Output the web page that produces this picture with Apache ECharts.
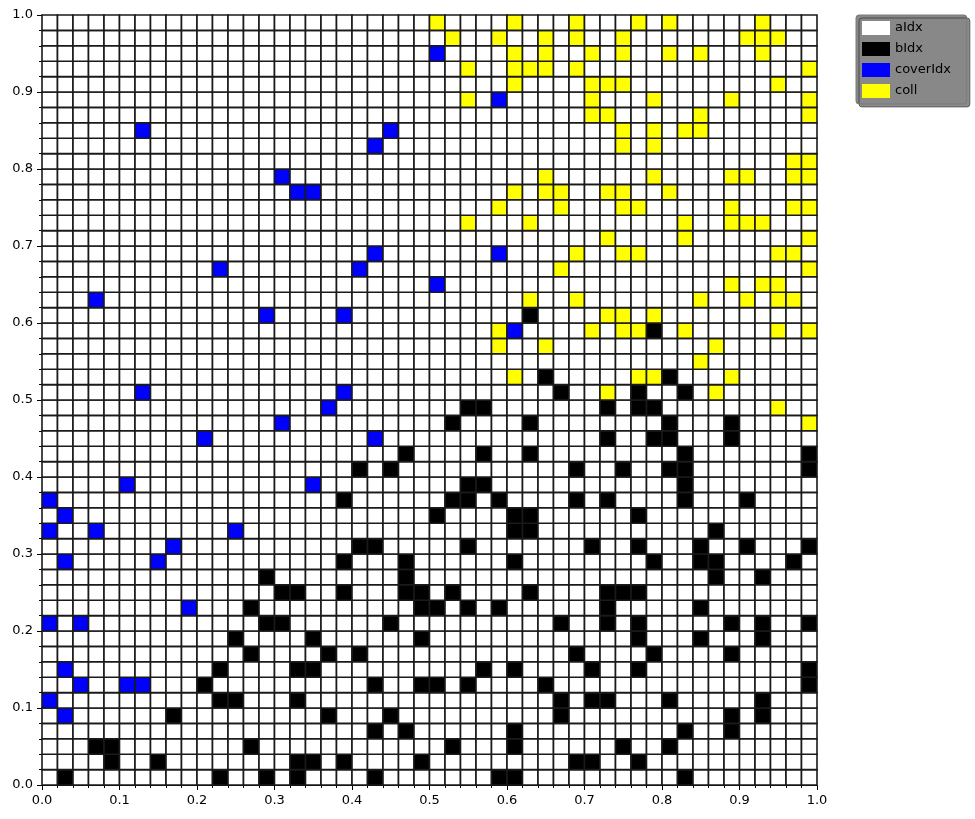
<!DOCTYPE html>
<html>
<head>
<meta charset="utf-8">
<script src="https://cdn.jsdelivr.net/npm/echarts@6/dist/echarts.min.js"></script>
<style>html,body{margin:0;padding:0;background:#fff}#c{width:975px;height:819px}</style>
</head>
<body>
<div id="c"></div>
<script>
// ---- data ----
const categoryNames = ['aIdx', 'bIdx', 'coverIdx', 'coll'];
const gridCount = 50;            // cells per side
const xTicks = [0.0, 0.1, 0.2, 0.3, 0.4, 0.5, 0.6, 0.7, 0.8, 0.9, 1.0];
const yTicks = [0.0, 0.1, 0.2, 0.3, 0.4, 0.5, 0.6, 0.7, 0.8, 0.9, 1.0];

// [row, [columns...]]  (row 0 = bottom, column 0 = left)
const coverIdxRows = [
  [47, [25]], [44, [29]], [42, [6, 22]], [41, [21]], [39, [15]], [38, [16, 17]],
  [34, [21, 29]], [33, [11, 20]], [32, [25]], [31, [3]], [30, [14, 19]], [29, [30]],
  [25, [6, 19]], [24, [18]], [23, [15]], [22, [10, 21]], [19, [5, 17]], [18, [0]],
  [17, [1]], [16, [0, 3, 12]], [15, [8]], [14, [1, 7]], [11, [9]], [10, [0, 2]],
  [7, [1]], [6, [2, 5, 6]], [5, [0]], [4, [1]]
];
const collRows = [
  [49, [25, 30, 34, 38, 40, 46]],
  [48, [26, 29, 32, 34, 37, 45, 46, 47]],
  [47, [30, 32, 35, 37, 40, 42, 46]],
  [46, [27, 30, 31, 32, 34, 49]],
  [45, [30, 35, 36, 37, 47]],
  [44, [27, 35, 39, 44, 49]],
  [43, [35, 36, 42, 49]],
  [42, [37, 39, 41, 42]],
  [41, [37, 39]],
  [40, [48, 49]],
  [39, [32, 39, 44, 45, 48, 49]],
  [38, [30, 32, 33, 36, 37, 40]],
  [37, [29, 33, 37, 38, 44, 48, 49]],
  [36, [27, 31, 41, 44, 45, 46]],
  [35, [36, 41, 49]],
  [34, [34, 37, 38, 47, 48]],
  [33, [33, 49]],
  [32, [44, 46, 47]],
  [31, [31, 34, 42, 45, 47, 48]],
  [30, [36, 37, 39]],
  [29, [29, 35, 37, 38, 41, 47, 49]],
  [28, [29, 32, 43]],
  [27, [42]],
  [26, [30, 38, 39, 44]],
  [25, [36, 43]],
  [24, [47]],
  [23, [49]]
];
const bIdxRows = [
  [30, [31]],
  [29, [39]],
  [26, [32, 40]],
  [25, [33, 38, 41]],
  [24, [27, 28, 36, 38, 39]],
  [23, [26, 31, 40, 44]],
  [22, [36, 39, 40, 44]],
  [21, [23, 28, 31, 41, 49]],
  [20, [20, 22, 34, 37, 40, 41, 49]],
  [19, [27, 28, 41]],
  [18, [19, 26, 27, 29, 34, 36, 41, 45]],
  [17, [25, 30, 31, 38]],
  [16, [30, 31, 43]],
  [15, [20, 21, 27, 35, 38, 42, 45, 49]],
  [14, [19, 23, 30, 39, 42, 43, 48]],
  [13, [14, 23, 43, 46]],
  [12, [15, 16, 19, 23, 24, 26, 31, 36, 37, 38]],
  [11, [13, 24, 25, 27, 29, 36, 42]],
  [10, [14, 15, 22, 33, 36, 38, 44, 46, 49]],
  [9, [12, 17, 24, 38, 42, 46]],
  [8, [13, 18, 20, 34, 39, 44]],
  [7, [11, 16, 17, 28, 30, 35, 38, 49]],
  [6, [10, 21, 24, 25, 27, 32, 49]],
  [5, [11, 12, 16, 33, 35, 36, 40, 46]],
  [4, [8, 18, 22, 33, 44, 46]],
  [3, [21, 23, 30, 41, 44]],
  [2, [3, 4, 13, 26, 30, 37, 40]],
  [1, [4, 7, 16, 17, 19, 24, 34, 35, 38]],
  [0, [1, 11, 14, 16, 21, 29, 30, 41]]
];

// ---- build cells ----
const typeGrid = [];
for (let r = 0; r < gridCount; r++) { typeGrid.push(new Array(gridCount).fill(0)); }
function mark(rows, t) { rows.forEach(([r, cols]) => cols.forEach(c => { typeGrid[r][c] = t; })); }
mark(bIdxRows, 1);
mark(coverIdxRows, 2);
mark(collRows, 3);

const cellSize = 1 / gridCount;
const cells = [];
for (let r = 0; r < gridCount; r++) {
  for (let c = 0; c < gridCount; c++) {
    cells.push([c * cellSize, r * cellSize, (c + 1) * cellSize, (r + 1) * cellSize, typeGrid[r][c]]);
  }
}

const colors = ['#ffffff', '#000000', '#0000ff', '#ffff00'];

const chart = echarts.init(document.getElementById('c'), null, { renderer: 'canvas' });
const axisCommon = {
  type: 'value', min: 0, max: 1, interval: 0.1,
  axisLine: { show: true, lineStyle: { color: '#000', width: 1 } },
  axisTick: { show: true, inside: false, length: 5, lineStyle: { color: '#000', width: 1 } },
  minorTick: { show: true, splitNumber: 5, length: 3, lineStyle: { color: '#000', width: 1 } },
  splitLine: { show: false },
  axisLabel: { color: '#000', fontSize: 13, fontFamily: 'DejaVu Sans', margin: 9, formatter: v => v.toFixed(1) }
};

const series = [{
  type: 'custom',
  name: 'cells',
  data: cells,
  encode: { x: [0, 2], y: [1, 3] },
  silent: true,
  renderItem: function (params, api) {
    const x0 = api.value(0), y0 = api.value(1), x1 = api.value(2), y1 = api.value(3), t = api.value(4);
    const p0 = api.coord([x0, y1]);
    const p1 = api.coord([x1, y0]);
    return {
      type: 'rect',
      shape: { x: p0[0], y: p0[1], width: p1[0] - p0[0], height: p1[1] - p0[1] },
      style: { fill: colors[t], stroke: '#1a1a1a', lineWidth: 1.6 }
    };
  }
}];
categoryNames.forEach((n, i) => {
  series.push({ type: 'scatter', name: n, data: [], itemStyle: { color: colors[i], opacity: 1 } });
});

chart.setOption({
  animation: false,
  backgroundColor: '#fff',
  grid: { left: 42, top: 15, width: 775, height: 770, containLabel: false },
  xAxis: axisCommon,
  yAxis: axisCommon,
  legend: {
    data: categoryNames.map(n => ({ name: n, icon: 'rect', itemStyle: { opacity: 1 } })),
    orient: 'vertical',
    left: 856, top: 15,
    itemWidth: 28, itemHeight: 14, itemGap: 7,
    padding: [6, 16, 6, 6],
    backgroundColor: '#888888',
    borderColor: '#7a7a7a', borderWidth: 1, borderRadius: 3,
    shadowColor: 'rgba(0,0,0,0.45)', shadowOffsetX: 3, shadowOffsetY: 3, shadowBlur: 0,
    textStyle: { color: '#000', fontSize: 13, fontFamily: 'DejaVu Sans' },
    selectedMode: false
  },
  series: series
});
</script>
</body>
</html>
